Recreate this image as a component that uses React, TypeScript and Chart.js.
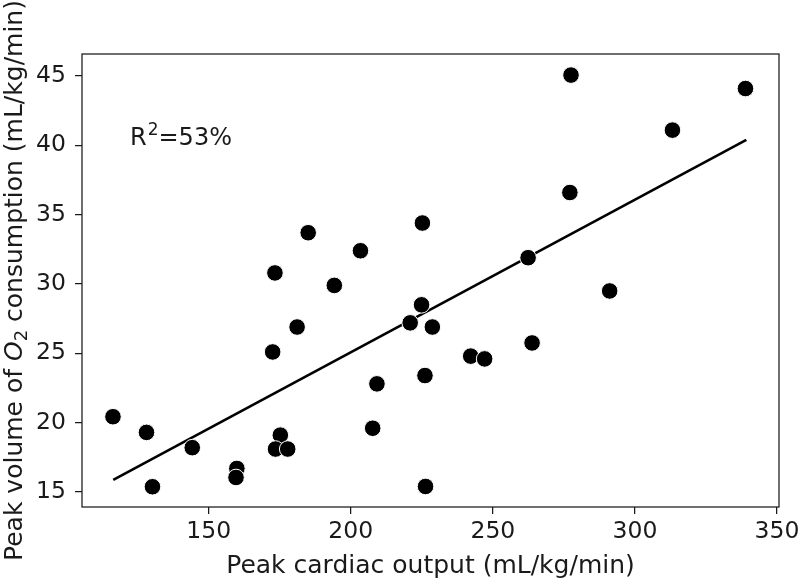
import React, { useEffect, useRef } from 'react';
import { Chart, registerables } from 'chart.js';

Chart.register(...registerables);

// Peak cardiac output (mL/kg/min)
const cardiacOutput = [
  116.3, 128.1, 130.2, 144.2, 159.9, 159.6, 172.5, 181.1, 175.2, 173.5, 177.8,
  173.3, 185.0, 194.2, 203.4, 207.7, 209.2, 225.2, 262.4, 277.5, 338.9, 313.2,
  277.1, 291.1, 224.9, 220.9, 228.7, 242.2, 247.1, 263.8, 226.1, 226.3,
];
// Peak volume of O2 consumption (mL/kg/min)
const o2Consumption = [
  20.43, 19.3, 15.38, 18.2, 16.7, 16.05, 25.1, 26.9, 19.1, 18.1, 18.1,
  30.8, 33.7, 29.9, 32.4, 19.6, 22.8, 34.4, 31.9, 45.07, 44.1, 41.1,
  36.6, 29.5, 28.5, 27.2, 26.9, 24.8, 24.6, 25.75, 23.4, 15.4,
];
// Regression line end points
const fitX = [116.4, 339.2];
const fitY = [15.87, 40.4];

const xTicks = [150, 200, 250, 300, 350];
const yTicks = [15, 20, 25, 30, 35, 40, 45];
const xRange = [105.4, 350.7];
const yRange = [13.92, 46.59];

const rSquaredText = '=53%';
const rSquaredAt = [122.3, 40];

const FONT = '"DejaVu Sans", sans-serif';
const INK = '#1a1a1a';
const LABEL_SIZE = 25;
const TICK_SIZE = 23.5;

const textPlugin = {
  id: 'textPlugin',
  afterDraw(chart: any) {
    const { ctx, chartArea, scales } = chart;
    ctx.save();
    // axes frame
    ctx.strokeStyle = INK;
    ctx.lineWidth = 1.25;
    ctx.strokeRect(chartArea.left, chartArea.top, chartArea.right - chartArea.left, chartArea.bottom - chartArea.top);

    ctx.fillStyle = INK;
    ctx.textBaseline = 'alphabetic';
    ctx.textAlign = 'left';
    const size = LABEL_SIZE;
    const normal = `${size}px ${FONT}`;
    const small = `${Math.round(size * 0.7)}px ${FONT}`;
    const italic = `italic ${size}px ${FONT}`;

    // R^2 annotation
    const ax = scales.x.getPixelForValue(rSquaredAt[0]);
    const ay = scales.y.getPixelForValue(rSquaredAt[1]);
    const anno = `${24}px ${FONT}`;
    const annoSmall = `${17}px ${FONT}`;
    ctx.font = anno;
    ctx.fillText('R', ax, ay);
    let w = ctx.measureText('R').width;
    ctx.font = annoSmall;
    ctx.fillText('2', ax + w + 1, ay - 24 * 0.42);
    w += ctx.measureText('2').width + 1;
    ctx.font = anno;
    ctx.fillText(rSquaredText, ax + w, ay);

    // x axis title
    const cx = (chartArea.left + chartArea.right) / 2;
    ctx.font = normal;
    ctx.textAlign = 'center';
    ctx.fillText('Peak cardiac output (mL/kg/min)', cx, 573);

    // y axis title with italic O and subscript 2
    const parts = [
      { t: 'Peak volume of ', f: normal, dy: 0 },
      { t: 'O', f: italic, dy: 0 },
      { t: '2', f: small, dy: size * 0.2 },
      { t: ' consumption (mL/kg/min)', f: normal, dy: 0 },
    ];
    let total = 0;
    for (const p of parts) {
      ctx.font = p.f;
      total += ctx.measureText(p.t).width;
    }
    const cy = (chartArea.top + chartArea.bottom) / 2;
    ctx.translate(22, cy);
    ctx.rotate(-Math.PI / 2);
    ctx.textAlign = 'left';
    let px = -total / 2;
    for (const p of parts) {
      ctx.font = p.f;
      ctx.fillText(p.t, px, p.dy);
      px += ctx.measureText(p.t).width;
    }
    ctx.restore();
  },
};

export default function App() {
  const ref = useRef<HTMLCanvasElement | null>(null);

  useEffect(() => {
    document.body.style.margin = '0';
    if (!ref.current) return;
    const chart = new Chart(ref.current, {
      type: 'scatter',
      data: {
        datasets: [
          {
            type: 'line',
            data: fitX.map((x, i) => ({ x, y: fitY[i] })),
            borderColor: '#000',
            borderWidth: 2.6,
            pointRadius: 0,
            fill: false,
            order: 2,
          } as any,
          {
            type: 'scatter',
            data: cardiacOutput.map((x, i) => ({ x, y: o2Consumption[i] })),
            backgroundColor: '#000',
            borderColor: '#fff',
            borderWidth: 1,
            pointRadius: 8.3,
            order: 1,
          },
        ],
      },
      options: {
        responsive: false,
        animation: false,
        events: [],
        layout: { padding: { top: 54, right: 21, left: 0, bottom: 0 } },
        plugins: { legend: { display: false }, tooltip: { enabled: false } },
        scales: {
          x: {
            type: 'linear',
            min: xRange[0],
            max: xRange[1],
            afterBuildTicks: (s: any) => {
              s.ticks = xTicks.map((v) => ({ value: v }));
            },
            afterFit: (s: any) => {
              s.height = 73;
              s.paddingLeft = 0;
              s.paddingRight = 0;
            },
            border: { display: false },
            grid: { display: true, drawOnChartArea: false, drawTicks: true, tickLength: 7, color: INK, lineWidth: 1.25 },
            ticks: { color: INK, font: { family: FONT, size: TICK_SIZE }, padding: 4, maxRotation: 0 },
          },
          y: {
            type: 'linear',
            min: yRange[0],
            max: yRange[1],
            afterBuildTicks: (s: any) => {
              s.ticks = yTicks.map((v) => ({ value: v }));
            },
            afterFit: (s: any) => {
              s.width = 82;
              s.paddingTop = 0;
              s.paddingBottom = 0;
            },
            border: { display: false },
            grid: { display: true, drawOnChartArea: false, drawTicks: true, tickLength: 7, color: INK, lineWidth: 1.25 },
            ticks: { color: INK, font: { family: FONT, size: TICK_SIZE }, padding: 9 },
          },
        },
      },
      plugins: [textPlugin],
    });
    return () => chart.destroy();
  }, []);

  return (
    <div style={{ position: 'absolute', left: 0, top: 0, width: 800, height: 580, background: '#fff' }}>
      <canvas ref={ref} width={800} height={580} style={{ width: 800, height: 580, display: 'block' }} />
    </div>
  );
}
